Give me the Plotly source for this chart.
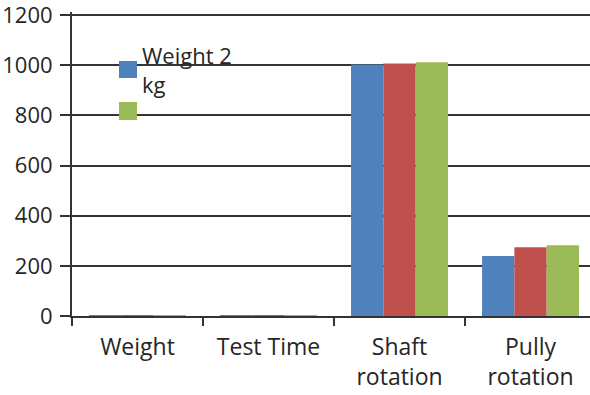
import plotly.graph_objects as go

categories = ["Weight", "Test Time", "Shaft<br>rotation", "Pully<br>rotation"]
series_names = ["Weight 2 kg", "Weight 2.5 kg", "Weight 3 kg"]
series_a = [2, 3, 1003, 239]
series_b = [2.5, 3, 1007, 274]
series_c = [3, 3, 1012, 282]
colors = ["#4F81BD", "#C0504D", "#9BBB59"]
y_ticks = [0, 200, 400, 600, 800, 1000, 1200]

FONT = "Open Sans"
TXT = "#262626"

fig = go.Figure()
for name, vals, col in zip(series_names, [series_a, series_b, series_c], colors):
    fig.add_trace(go.Bar(x=categories, y=vals, name=name, marker_color=col,
                         marker_line_width=0, showlegend=False))

fig.update_layout(
    width=590, height=395,
    margin=dict(l=72, r=0, t=12, b=79, autoexpand=False),
    paper_bgcolor="white", plot_bgcolor="white",
    barmode="group", bargap=0.26, bargroupgap=0,
    font=dict(family=FONT, size=22, color=TXT),
)
fig.update_xaxes(
    type="category", range=[-0.5, 3.454], automargin=False,
    showline=True, linecolor="#333", linewidth=2,
    ticks="outside", tickson="boundaries", ticklen=8, tickwidth=1.5, tickcolor="#333",
    showgrid=False, tickfont=dict(family=FONT, size=23, color=TXT),
    ticklabelstandoff=9, ticklabeloverflow="allow",
)
fig.update_yaxes(
    range=[0, 1212], tickvals=y_ticks, automargin=False,
    showline=True, linecolor="#333", linewidth=2,
    ticks="outside", ticklen=10, tickwidth=1.5, tickcolor="#333",
    showgrid=True, gridcolor="#333", gridwidth=1.5,
    zeroline=False, ticklabelstandoff=3, ticklabeloverflow="allow",
    tickfont=dict(family=FONT, size=22, color=TXT),
)

# manual legend (keys are larger than Plotly's defaults)
H = 304.0
fig.add_shape(type="rect", xref="paper", yref="paper",
              x0=(119 - 72) / 518, x1=(137 - 72) / 518,
              y0=(316 - 78) / H, y1=(316 - 61) / H,
              fillcolor=colors[0], line=dict(width=0))
fig.add_shape(type="rect", xref="paper", yref="paper",
              x0=(119 - 72) / 518, x1=(137 - 72) / 518,
              y0=(316 - 120) / H, y1=(316 - 102) / H,
              fillcolor=colors[2], line=dict(width=0))
fig.add_annotation(xref="paper", yref="paper", x=(140 - 72) / 518, y=(316 - 38) / H,
                   xanchor="left", yanchor="top", align="left", showarrow=False,
                   text="Weight 2<br>kg", font=dict(family=FONT, size=22, color=TXT))

fig.write_html("out.html", config={"displayModeBar": False},
               post_script="document.body.style.margin='0';document.body.style.overflow='hidden';")
